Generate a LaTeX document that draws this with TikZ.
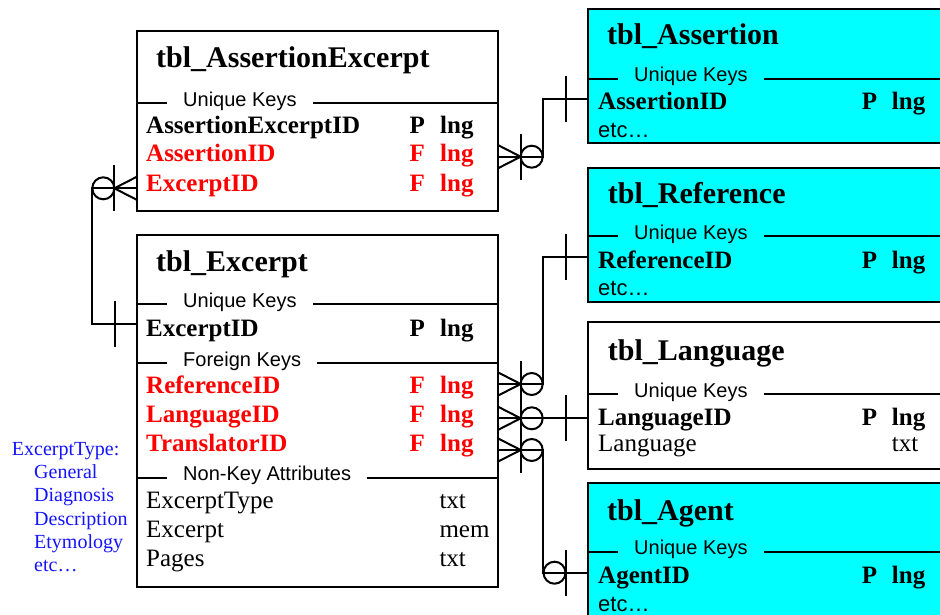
\documentclass[tikz,border=0pt]{standalone}
\usepackage{fontspec}
\setmainfont{Liberation Serif}
\setsansfont{Liberation Sans}
\definecolor{tblcyan}{RGB}{0,255,255}
\definecolor{fkred}{RGB}{255,0,0}
\definecolor{noteblue}{RGB}{20,20,255}

% crow's foot with an open circle, on a right-hand box edge, pointing right
\newcommand\manyoptright[1]{%
  \draw[link] ([yshift=11.6pt]#1) -- ([xshift=22.7pt]#1) -- ([yshift=-11.6pt]#1);
  \draw[link] ([xshift=22.7pt,yshift=23pt]#1) -- ([xshift=22.7pt,yshift=-23pt]#1);
  \draw[link] ([xshift=33.7pt]#1) circle (11pt);}
% the same, on a left-hand box edge, pointing left
\newcommand\manyoptleft[1]{%
  \draw[link] ([yshift=11.6pt]#1) -- ([xshift=-22.7pt]#1) -- ([yshift=-11.6pt]#1);
  \draw[link] ([xshift=-22.7pt,yshift=23pt]#1) -- ([xshift=-22.7pt,yshift=-23pt]#1);
  \draw[link] ([xshift=-33.7pt]#1) circle (11pt);}
% exactly-one bar just outside a left-hand box edge
\newcommand\onebar[1]{%
  \draw[link] ([xshift=-22.5pt,yshift=23pt]#1) -- ([xshift=-22.5pt,yshift=-23pt]#1);}
% zero-or-one (bar and circle) just outside a left-hand box edge
\newcommand\zeroone[1]{%
  \draw[link] ([xshift=-22.5pt,yshift=23pt]#1) -- ([xshift=-22.5pt,yshift=-23pt]#1);
  \draw[link] ([xshift=-33.5pt]#1) circle (11pt);}
% section rule with its caption sitting in a gap of the line
\newcommand\secrule[4]{%
  \draw[link] (#1.west |- 0,#2) -- (#1.east |- 0,#2);
  \path (#1.west |- 0,#2) ++(30,3) node[seclabel,fill=#4] (#1-sec#2) {#3};}

\begin{document}
\begin{tikzpicture}[x=1pt,y=-1pt,
  link/.style={line width=2pt,draw=black},
  tbox/.style={draw=black,line width=2pt,anchor=north west,inner sep=0pt,outer sep=0pt,fill=white},
  tbltitle/.style={anchor=base west,inner sep=0pt,font=\fontsize{30}{36}\selectfont\bfseries},
  keyrow/.style={anchor=base west,inner sep=0pt,font=\fontsize{25}{30}\selectfont\bfseries},
  fkrow/.style={keyrow,text=fkred},
  plainrow/.style={anchor=base west,inner sep=0pt,font=\fontsize{25}{30}\selectfont},
  etcrow/.style={anchor=base west,inner sep=0pt,font=\sffamily\fontsize{22}{26}\selectfont},
  seclabel/.style={anchor=base west,inner xsep=16pt,inner ysep=1pt,font=\sffamily\fontsize{20}{24}\selectfont},
  note/.style={anchor=base west,inner sep=0pt,text=noteblue,font=\fontsize{20}{24}\selectfont}]

\fill[white] (0,0) rectangle (940,615);
\useasboundingbox (0,0) rectangle (940,615);
\clip (0,0) rectangle (940,615);

% ---------- tbl_AssertionExcerpt ----------
\node[tbox,minimum width=361pt,minimum height=180pt] (ae) at (137,31) {};
\node[tbltitle] (ae-t) at (156,68) {tbl\_AssertionExcerpt};
\secrule{ae}{103.3}{Unique Keys}{white}
\node[keyrow] (ae-r1) at (146,133.3) {AssertionExcerptID};
\node[keyrow] (ae-r1k) at (409.3,133.3) {P};
\node[keyrow] (ae-r1t) at (440,133.3) {lng};
\node[fkrow] (ae-r2) at (146,161.7) {AssertionID};
\node[fkrow] (ae-r2k) at (409.3,161.7) {F};
\node[fkrow] (ae-r2t) at (440,161.7) {lng};
\node[fkrow] (ae-r3) at (146,191) {ExcerptID};
\node[fkrow] (ae-r3k) at (409.3,191) {F};
\node[fkrow] (ae-r3t) at (440,191) {lng};

% ---------- tbl_Excerpt ----------
\node[tbox,minimum width=361pt,minimum height=352pt] (ex) at (137,235) {};
\node[tbltitle] (ex-t) at (156,271.7) {tbl\_Excerpt};
\secrule{ex}{304}{Unique Keys}{white}
\node[keyrow] (ex-r1) at (146,336) {ExcerptID};
\node[keyrow] (ex-r1k) at (409.3,336) {P};
\node[keyrow] (ex-r1t) at (440,336) {lng};
\secrule{ex}{363.3}{Foreign Keys}{white}
\node[fkrow] (ex-r2) at (146,393.3) {ReferenceID};
\node[fkrow] (ex-r2k) at (409.3,393.3) {F};
\node[fkrow] (ex-r2t) at (440,393.3) {lng};
\node[fkrow] (ex-r3) at (146,422.3) {LanguageID};
\node[fkrow] (ex-r3k) at (409.3,422.3) {F};
\node[fkrow] (ex-r3t) at (440,422.3) {lng};
\node[fkrow] (ex-r4) at (146,451.7) {TranslatorID};
\node[fkrow] (ex-r4k) at (409.3,451.7) {F};
\node[fkrow] (ex-r4t) at (440,451.7) {lng};
\secrule{ex}{477.7}{Non-Key Attributes}{white}
\node[plainrow] (ex-r5) at (146,508.3) {ExcerptType};
\node[plainrow] (ex-r5t) at (439.3,508.3) {txt};
\node[plainrow] (ex-r6) at (146,537.3) {Excerpt};
\node[plainrow] (ex-r6t) at (439.3,537.3) {mem};
\node[plainrow] (ex-r7) at (146,566) {Pages};
\node[plainrow] (ex-r7t) at (439.3,566) {txt};

% ---------- tbl_Assertion ----------
\node[tbox,fill=tblcyan,minimum width=400pt,minimum height=134.3pt] (as) at (588,9) {};
\node[tbltitle] (as-t) at (607,45) {tbl\_Assertion};
\secrule{as}{79}{Unique Keys}{tblcyan}
\node[keyrow] (as-r1) at (598,110) {AssertionID};
\node[keyrow] (as-r1k) at (861.7,110) {P};
\node[keyrow] (as-r1t) at (891.7,110) {lng};
\node[etcrow] (as-etc) at (598,138) {etc…};

% ---------- tbl_Reference ----------
\node[tbox,fill=tblcyan,minimum width=400pt,minimum height=134pt] (rf) at (588,167.7) {};
\node[tbltitle] (rf-t) at (607.7,203.3) {tbl\_Reference};
\secrule{rf}{236}{Unique Keys}{tblcyan}
\node[keyrow] (rf-r1) at (598,268.3) {ReferenceID};
\node[keyrow] (rf-r1k) at (861.7,268.3) {P};
\node[keyrow] (rf-r1t) at (891.7,268.3) {lng};
\node[etcrow] (rf-etc) at (598,295.7) {etc…};

% ---------- tbl_Language ----------
\node[tbox,minimum width=400pt,minimum height=146.7pt] (lg) at (588,322.3) {};
\node[tbltitle] (lg-t) at (607.7,360) {tbl\_Language};
\secrule{lg}{394.3}{Unique Keys}{white}
\node[keyrow] (lg-r1) at (598,425) {LanguageID};
\node[keyrow] (lg-r1k) at (861.7,425) {P};
\node[keyrow] (lg-r1t) at (891.7,425) {lng};
\node[plainrow] (lg-r2) at (598,451.7) {Language};
\node[plainrow] (lg-r2t) at (891.7,451.7) {txt};

% ---------- tbl_Agent ----------
\node[tbox,fill=tblcyan,minimum width=400pt,minimum height=160pt] (ag) at (588,482.7) {};
\node[tbltitle] (ag-t) at (607,520) {tbl\_Agent};
\secrule{ag}{551.7}{Unique Keys}{tblcyan}
\node[keyrow] (ag-r1) at (598,583.3) {AgentID};
\node[keyrow] (ag-r1k) at (861.7,583.3) {P};
\node[keyrow] (ag-r1t) at (891.7,583.3) {lng};
\node[etcrow] (ag-etc) at (598,611.7) {etc…};

% ---------- ExcerptType values ----------
\node[note] (n0) at (11.7,455) {ExcerptType:};
\node[note] (n1) at (34,478.3) {General};
\node[note] (n2) at (34,501.7) {Diagnosis};
\node[note] (n3) at (34,525) {Description};
\node[note] (n4) at (34,548.3) {Etymology};
\node[note] (n5) at (34,571.7) {etc…};

% ---------- relationship end points ----------
\coordinate (ae-aid) at (ae.east |- 0,156.7);
\coordinate (as-aid) at (as.west |- 0,99);
\coordinate (ae-eid) at (ae.west |- 0,188.3);
\coordinate (ex-eid) at (ex.west |- 0,324);
\coordinate (ex-ref) at (ex.east |- 0,384);
\coordinate (rf-rid) at (rf.west |- 0,257.3);
\coordinate (ex-lng) at (ex.east |- 0,418.3);
\coordinate (lg-lid) at (lg.west |- 0,418.3);
\coordinate (ex-trn) at (ex.east |- 0,450);
\coordinate (ag-aid) at (ag.west |- 0,572.7);

% ---------- relationships ----------
\draw[link] (ae-aid) -- ++(45.3,0) |- (as-aid);
\manyoptright{ae-aid}
\onebar{as-aid}

\draw[link] (ae-eid) -- ++(-44.7,0) |- (ex-eid);
\manyoptleft{ae-eid}
\onebar{ex-eid}

\draw[link] (ex-ref) -- ++(45.3,0) |- (rf-rid);
\manyoptright{ex-ref}
\onebar{rf-rid}

\draw[link] (ex-lng) -- (lg-lid);
\manyoptright{ex-lng}
\onebar{lg-lid}

\draw[link] (ex-trn) -- ++(45.3,0) |- (ag-aid);
\manyoptright{ex-trn}
\zeroone{ag-aid}

\end{tikzpicture}
\end{document}
